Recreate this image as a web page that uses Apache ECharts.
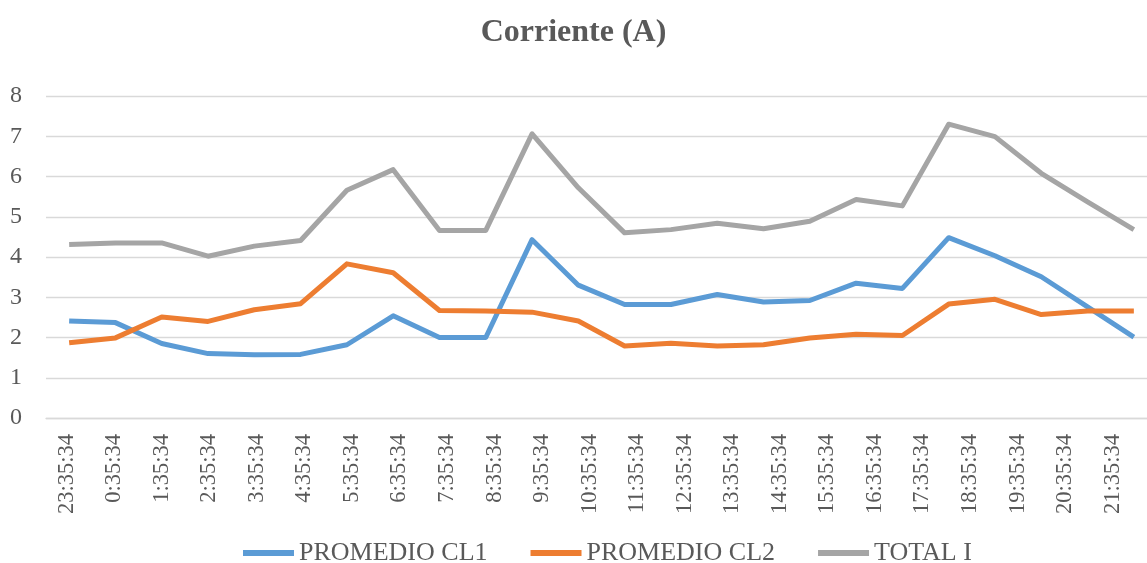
<!DOCTYPE html>
<html>
<head>
<meta charset="utf-8">
<script src="https://cdn.jsdelivr.net/npm/echarts@6/dist/echarts.min.js"></script>
<style>
  html, body { margin: 0; padding: 0; background: #ffffff; }
  #chart { width: 1147px; height: 563px; }
</style>
</head>
<body>
<div id="chart"></div>
<script>
// Hourly readings
const categories = ['23:35:34','0:35:34','1:35:34','2:35:34','3:35:34','4:35:34','5:35:34','6:35:34',
  '7:35:34','8:35:34','9:35:34','10:35:34','11:35:34','12:35:34','13:35:34','14:35:34','15:35:34',
  '16:35:34','17:35:34','18:35:34','19:35:34','20:35:34','21:35:34','22:35:34'];

const promedioCL1 = [2.41, 2.37, 1.85, 1.60, 1.57, 1.58, 1.82, 2.54, 2.00, 2.00, 4.43, 3.30,
  2.82, 2.82, 3.07, 2.88, 2.92, 3.35, 3.22, 4.48, 4.03, 3.51, 2.76, 2.01];
const promedioCL2 = [1.87, 1.99, 2.51, 2.40, 2.69, 2.84, 3.83, 3.61, 2.67, 2.66, 2.63, 2.41,
  1.79, 1.86, 1.79, 1.82, 1.99, 2.08, 2.05, 2.83, 2.95, 2.57, 2.66, 2.66];
const totalI = [4.31, 4.35, 4.35, 4.02, 4.27, 4.41, 5.66, 6.17, 4.66, 4.66, 7.06, 5.72,
  4.60, 4.68, 4.84, 4.70, 4.89, 5.43, 5.27, 7.30, 6.99, 6.08, 5.37, 4.68];

const yTicks = [0, 1, 2, 3, 4, 5, 6, 7, 8];

const seriesNames = ['PROMEDIO CL1', 'PROMEDIO CL2', 'TOTAL I'];
const seriesColors = ['#5B9BD5', '#ED7D31', '#A5A5A5'];
const seriesData = [promedioCL1, promedioCL2, totalI];

const FONT = "'Liberation Serif', 'Times New Roman', serif";
const TEXT = '#595959';

const chart = echarts.init(document.getElementById('chart'), null, { renderer: 'canvas' });

chart.setOption({
  backgroundColor: '#ffffff',
  animation: false,
  title: {
    text: 'Corriente (A)',
    left: 'center',
    top: 12,
    textStyle: { fontFamily: FONT, fontSize: 32, fontWeight: 'bold', color: TEXT }
  },
  legend: {
    data: seriesNames,
    left: 238,
    top: 535,
    itemWidth: 51,
    itemHeight: 6,
    itemGap: 43,
    icon: 'rect',
    textStyle: { fontFamily: FONT, fontSize: 26, color: TEXT }
  },
  // plot area runs past the right edge of the canvas, so the last category is cut
  grid: [
    { left: 46, width: 1111, top: 96, bottom: 145, outerBoundsMode: 'none', containLabel: false },
    { left: 43, width: 1141, top: 96, bottom: 145, outerBoundsMode: 'none', containLabel: false }
  ],
  xAxis: [
    {
      type: 'category',
      gridIndex: 0,
      data: categories,
      boundaryGap: true,
      axisLine: { lineStyle: { color: '#D9D9D9', width: 1.3 } },
      axisTick: { show: false },
      axisLabel: { show: false }
    },
    {
      type: 'category',
      gridIndex: 1,
      data: categories,
      boundaryGap: true,
      axisLine: { show: false },
      axisTick: { show: false },
      axisLabel: {
        interval: 0,
        rotate: 90,
        margin: 16,
        fontFamily: FONT,
        fontSize: 22.5,
        color: TEXT
      }
    }
  ],
  yAxis: [
    {
      type: 'value',
      gridIndex: 0,
      min: yTicks[0],
      max: yTicks[yTicks.length - 1],
      interval: 1,
      axisLine: { show: false },
      axisTick: { show: false },
      splitLine: { lineStyle: { color: '#D9D9D9', width: 1.3 } },
      axisLabel: { margin: 24, fontFamily: FONT, fontSize: 24, color: TEXT }
    },
    {
      type: 'value',
      gridIndex: 1,
      min: yTicks[0],
      max: yTicks[yTicks.length - 1],
      show: false
    }
  ],
  series: seriesNames.map((name, i) => ({
    name: name,
    type: 'line',
    xAxisIndex: 0,
    yAxisIndex: 0,
    data: seriesData[i],
    symbol: 'none',
    smooth: false,
    itemStyle: { color: seriesColors[i] },
    lineStyle: { color: seriesColors[i], width: 5, join: 'round' }
  }))
});
</script>
</body>
</html>
